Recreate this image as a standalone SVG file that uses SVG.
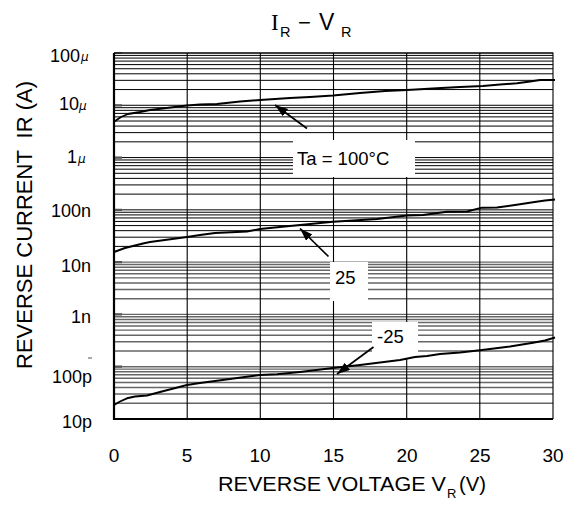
<svg xmlns="http://www.w3.org/2000/svg" xmlns:xlink="http://www.w3.org/1999/xlink" width="575" height="505" viewBox="0 0 575 505">
<style>
text{font-family:"Liberation Sans",Arial,sans-serif;fill:#000}
.grid{stroke:#000;stroke-width:1;fill:none}
.gridg{stroke:#666;stroke-width:1.4;fill:none}
.vgrid{stroke:#000;stroke-width:1.1;fill:none}
.axis{stroke:#000;stroke-width:2.2;fill:none}
.stub{stroke:#555;stroke-width:2.2;fill:none}
.curve{stroke:#000;stroke-width:1.9;fill:none;stroke-linejoin:round}
.arr{stroke:#000;stroke-width:1.7;fill:none;marker-end:url(#ah)}
.box{fill:#fff;stroke:none}
.ytick{font-size:18px;text-anchor:end}
.xtick{font-size:19px;text-anchor:middle}
.lbl{font-size:18.5px}
</style>
<defs>
<marker id="ah" markerUnits="userSpaceOnUse" markerWidth="14" markerHeight="10" refX="13" refY="4.5" orient="auto">
<path d="M0,0 L13,4.5 L0,9 z" fill="#000"/>
</marker>
<path id="dec" d="M114,-15.74H553M114,-24.95H553M114,-31.48H553M114,-36.55H553M114,-40.69H553M114,-44.19H553M114,-47.22H553M114,-49.89H553M114,-52.29H553"/>
</defs>

<g id="grid">
<use xlink:href="#dec" class="grid" transform="translate(0,105.29)"/>
<use xlink:href="#dec" class="grid" transform="translate(0,157.57)"/>
<use xlink:href="#dec" class="grid" transform="translate(0,209.86)"/>
<use xlink:href="#dec" class="grid" transform="translate(0,262.14)"/>
<use xlink:href="#dec" class="gridg" transform="translate(0,314.43)"/>
<use xlink:href="#dec" class="gridg" transform="translate(0,366.71)"/>
<use xlink:href="#dec" class="gridg" transform="translate(0,419)"/>
<path class="vgrid" d="M187.2,53V419M260.3,53V419M333.5,53V419M406.7,53V419M479.8,53V419"/>
<path class="stub" d="M114,53H122M114,105.3H122M114,157.6H122M114,209.9H122M114,262.1H122M114,314.4H122M114,366.7H122"/>
<path class="vgrid" d="M114,53H553V419"/>
<path class="axis" d="M114,53V419H553"/>
</g>

<g id="label-boxes">
<rect class="box" x="293" y="140" width="122" height="37"/>
<rect class="box" x="330" y="262" width="38" height="39"/>
<rect class="box" x="372" y="322" width="46" height="37"/>
</g>

<g id="curves">
<path id="curve-100" class="curve" d="M114,121.7 L121,117 L128,114 L140,112 L150,110 L187,105.5 L200,104.5 L217,104 L240,101.5 L260,100 L290,98 L310,97 L333,95.5 L360,93 L385,91 L407,90 L437,88.3 L460,87 L483,86 L500,84.5 L517,83.3 L530,81.5 L540,80 L555,80"/>
<path id="curve-25" class="curve" d="M114,252 L125,248 L143,243.5 L150,242 L187,237 L200,235 L215,233 L247,231.5 L260,229 L290,226 L333,221.7 L377,219 L407,215.5 L423,215 L447,211.7 L467,211.5 L482,207.7 L497,207.5 L515,205 L533,202.3 L545,200.5 L555,199.5"/>
<path id="curve-m25" class="curve" d="M114,405 L120,401.5 L127,398.3 L135,396.5 L147,395.5 L160,392 L187,385 L200,383 L230,379 L260,375 L277,374.3 L300,372 L333,368 L360,365 L400,360 L415,357 L427,356 L440,354 L460,352.5 L482,350 L510,346.5 L533,342.7 L545,340.5 L555,337.5"/>
</g>

<g id="connectors">
<line class="arr" x1="307" y1="128.5" x2="275" y2="105"/>
<line class="arr" x1="328.5" y1="256.5" x2="300" y2="228.5"/>
<line class="arr" x1="373.5" y1="347" x2="337" y2="374"/>
</g>

<g id="node-ta100"><text class="lbl" x="297" y="165">Ta = 100°C</text></g>
<g id="node-25"><text class="lbl" x="335" y="284">25</text></g>
<g id="node-m25"><text class="lbl" x="377" y="343">-25</text></g>

<g id="title">
<text x="271" y="30" font-size="23" style="font-family:'Liberation Serif',serif">I</text>
<text x="280" y="37" font-size="14.5">R</text>
<text x="298" y="30" font-size="22">−</text>
<text x="319" y="30" font-size="23">V</text>
<text x="341" y="37" font-size="14.5">R</text>
</g>

<g id="y-ticks">
<text x="80" y="62" class="ytick">100</text><text x="81" y="61" font-size="12" font-style="italic" style="font-family:'DejaVu Sans',sans-serif">μ</text>
<text x="79" y="110" class="ytick">10</text><text x="79" y="110" font-size="12" font-style="italic" style="font-family:'DejaVu Sans',sans-serif">μ</text>
<text x="77" y="163" class="ytick">1</text><text x="78" y="163" font-size="12" font-style="italic" style="font-family:'DejaVu Sans',sans-serif">μ</text>
<text x="91" y="217" class="ytick">100n</text>
<text x="91" y="272" class="ytick">10n</text>
<text x="91" y="323" class="ytick">1n</text>
<line x1="88" y1="358" x2="92" y2="358" stroke="#555" stroke-width="1"/>
<text x="92" y="383" class="ytick">100p</text>
<text x="92" y="428" class="ytick">10p</text>
</g>

<g id="x-ticks">
<text x="114" y="462" class="xtick">0</text>
<text x="187" y="462" class="xtick">5</text>
<text x="260" y="462" class="xtick">10</text>
<text x="333.5" y="462" class="xtick">15</text>
<text x="407" y="462" class="xtick">20</text>
<text x="480" y="462" class="xtick">25</text>
<text x="553" y="462" class="xtick">30</text>
</g>

<g id="axis-titles">
<text x="218" y="491" font-size="20" textLength="228" lengthAdjust="spacingAndGlyphs">REVERSE VOLTAGE V</text>
<text x="447" y="498" font-size="13">R</text>
<text x="459" y="491" font-size="20" textLength="27" lengthAdjust="spacingAndGlyphs">(V)</text>
<text transform="translate(32,225) rotate(-90)" font-size="22" text-anchor="middle">REVERSE CURRENT <tspan dx="6">IR (A)</tspan></text>
</g>
</svg>
